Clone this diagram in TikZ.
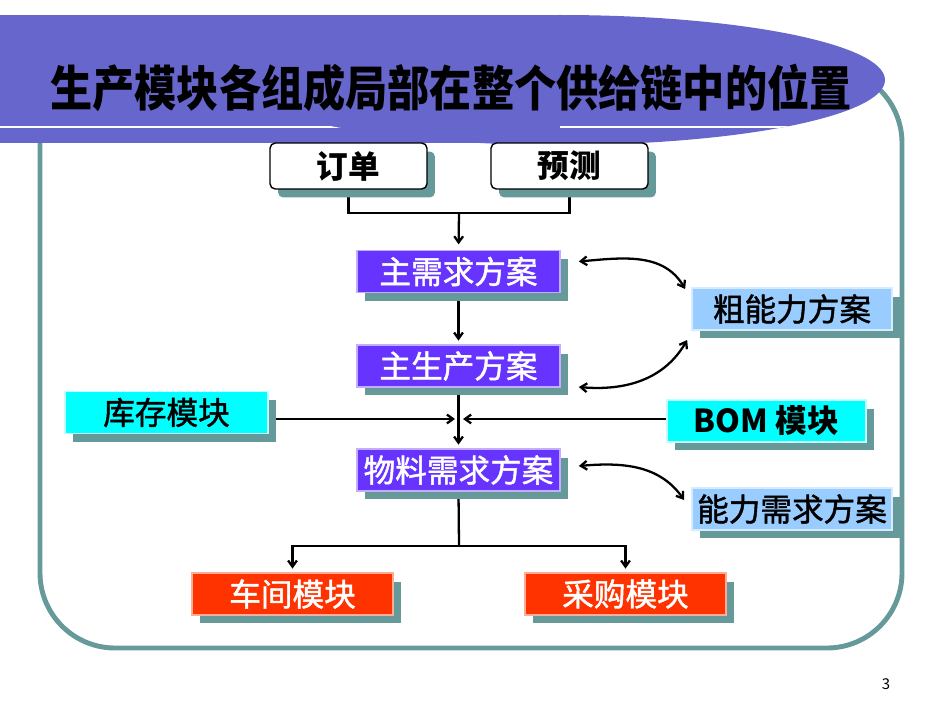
\documentclass[tikz,border=0pt]{standalone}
\usepackage{fontspec}
\newfontfamily\cjk{Noto Sans CJK SC}
\newfontfamily\cjkmid{Noto Sans CJK SC}[FakeBold=1.4]
\usetikzlibrary{arrows.meta,shadows,backgrounds}
\definecolor{bannerblue}{HTML}{6666CC}
\definecolor{frameteal}{HTML}{669999}
\definecolor{planpurple}{HTML}{6633FF}
\definecolor{modcyan}{HTML}{00FFFF}
\definecolor{capblue}{HTML}{99CCFF}
\definecolor{shopred}{HTML}{FF3300}
\tikzset{box/.style={inner sep=0pt, minimum width=4.06cm, minimum height=0.84cm,
                     font=\cjkmid\fontsize{18}{18}\selectfont,
                     copy shadow={shadow xshift=0.16cm, shadow yshift=-0.17cm,
                                  fill=frameteal, draw=none}}}

\begin{document}
\begin{tikzpicture}[x=0.02cm, y=-0.02cm, >={Straight Barb[length=3.5pt,width=5pt]},
      % box styles
      source/.style ={box, fill=white, draw=black, line width=0.8pt, rounded corners=3pt,
                      minimum width=3.14cm, minimum height=0.92cm,
                      font=\cjk\bfseries\fontsize{18}{18}\selectfont},
      plan/.style   ={box, fill=planpurple, draw=planpurple!40!white, line width=1pt, text=white},
      module/.style ={box, fill=modcyan, draw=modcyan!25!white, line width=1pt},
      capplan/.style={box, fill=capblue, draw=capblue!40!white, line width=1pt, minimum width=4cm},
      shop/.style   ={box, fill=shopred, draw=shopred!40!white, line width=1pt, text=white,
                      minimum width=4.02cm},
      line/.style   ={line width=1.3pt},
      feedback/.style={line width=1.3pt, <->}
    ]
    \useasboundingbox (0,0) rectangle (950,713);

    % frame and title banner
    \draw[frameteal, line width=2.8pt, rounded corners=1.5cm] (40,68) rectangle (902,648);
    \begin{scope}
      \fill[bannerblue] (0,15) rectangle (560,143);
      \fill[bannerblue] (560,80) ellipse [x radius=325, y radius=65];
      \clip (0,15) rectangle (560,143) (560,80) ellipse [x radius=325, y radius=65];
      \draw[white, line width=1.6pt] (0,127) -- (950,127);
    \end{scope}
    \node (title) at (451,88) {\cjk\bfseries\fontsize{24}{24}\selectfont
      \scalebox{1}[1.15]{生产模块各组成局部在整个供给链中的位置}};

    % boxes
    \node[source]  (dingdan) at (348.5,166) {订单};
    \node[source]  (yuce)    at (569.5,166) {预测};
    \node[plan]    (zxq)     at (458.5,271.5) {主需求方案};
    \node[plan]    (zsc)     at (458.5,366) {主生产方案};
    \node[plan]    (wlxq)    at (458.5,470) {物料需求方案};
    \node[module]  (kucun)   at (166.5,412.5) {库存模块};
    \node[module, minimum width=3.98cm, font=\cjk\bfseries\fontsize{18}{18}\selectfont]
                   (bom)     at (766.5,421) {BOM 模块};
    \node[capplan] (cnl)     at (792,309) {粗能力方案};
    \node[capplan] (nlxq)    at (792,509) {能力需求方案};
    \node[shop]    (chejian) at (292.5,594) {车间模块};
    \node[shop]    (caigou)  at (625.5,594) {采购模块};

    \node (pageno) at (886,684) {\cjk\fontsize{8.5}{8.5}\selectfont 3};

    \coordinate (join)  at (459,213);
    \coordinate (kcend) at (455,419);
    \coordinate (bmend) at (463,419);
    \coordinate (split) at (459,546);

    % connectors
    \begin{scope}[on background layer]
      \draw[line] (dingdan.south) |- (join) -| (yuce.south);
      \draw[line, ->, shorten >=3pt] (join) -- (zxq.north);
      \draw[line, ->, shorten >=2pt] (zxq.south) -- (zsc.north);
      \draw[line, ->, shorten >=2pt] (zsc.south) -- (wlxq.north);
      \draw[line, ->] (kcend -| kucun.east) -- (kcend);
      \draw[line, ->] (bmend -| bom.west) -- (bmend);
      \draw[line] (wlxq.south) -- (split);
      \draw[line, ->, shorten >=2pt] (split) -| (chejian.north);
      \draw[line, ->, shorten >=2pt] (split) -| (caigou.north);

      % feedback with the capacity plans
      \draw[feedback] ([shift={(0.36cm,0.2cm)}]zxq.east) to[out=5, in=120]
                  ([shift={(-0.12cm,0.4cm)}]cnl.west);
      \draw[feedback] ([shift={(0.36cm,-0.42cm)}]zsc.east) to[out=-5, in=-120]
                  ([shift={(-0.08cm,-0.62cm)}]cnl.west);
      \draw[feedback] ([shift={(0.36cm,0.08cm)}]wlxq.east) to[out=5, in=125]
                  ([shift={(-0.14cm,0.18cm)}]nlxq.west);
    \end{scope}
  \end{tikzpicture}
\end{document}
